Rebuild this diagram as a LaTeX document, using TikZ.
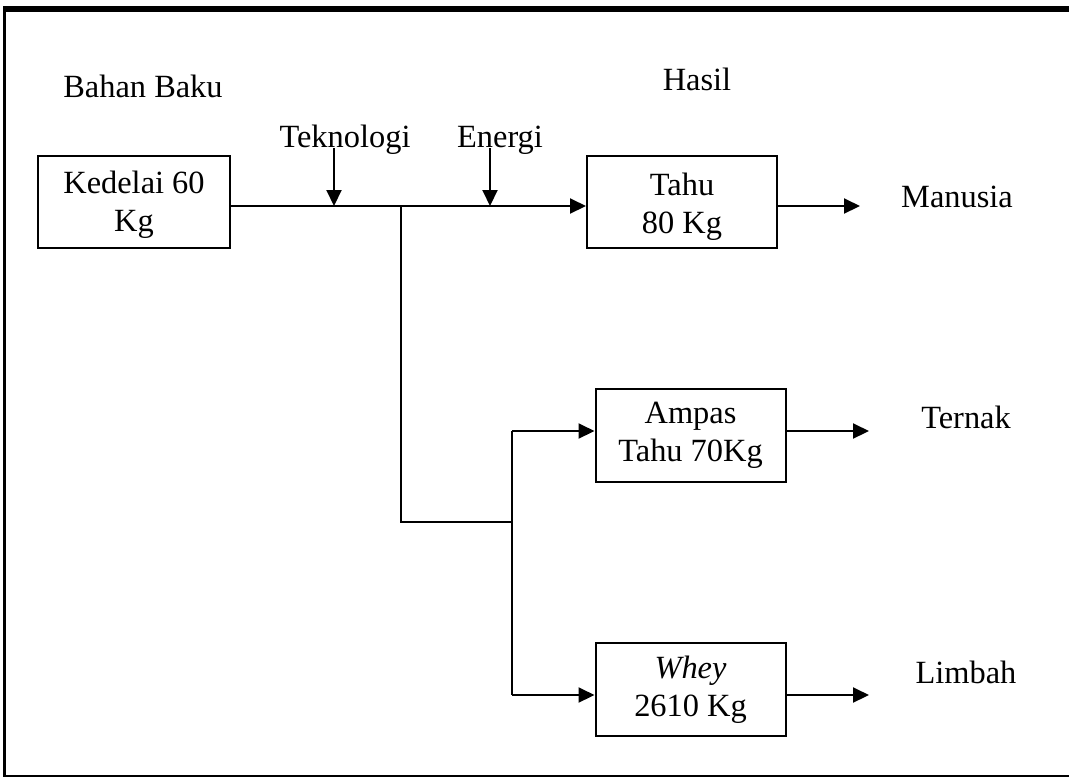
\documentclass[tikz,border=0pt]{standalone}
\usepackage{fontspec}
\setmainfont{Liberation Serif}
\usetikzlibrary{arrows.meta}
\begin{document}
\begin{tikzpicture}[x=0.5pt,y=-0.5pt,
  every node/.style={font=\fontsize{16.2}{19}\selectfont},
  blk/.style={draw, line width=1pt, minimum width=95pt, minimum height=46pt, align=center, inner sep=0pt},
  lbl/.style={anchor=base, inner sep=0pt},
  flow/.style={line width=1pt, -{Triangle[length=8pt,width=7.5pt]}},
  wire/.style={line width=1pt}]
\useasboundingbox (0,0) rectangle (1069,778);
% frame
\draw[line width=3pt] (3,9) -- (1075,9);
\draw[line width=1.75pt] (4.5,6) -- (4.5,777);
\draw[line width=1.25pt] (3,776) -- (1075,776);
% boxes
\node[blk, minimum width=96pt] (ked) at (134,202) {\rule{0pt}{14pt}Kedelai 60\\Kg};
\node[blk] (tahu) at (682,202) {\rule{0pt}{15.5pt}Tahu\\80 Kg};
\node[blk, minimum height=46.5pt] (ampas) at (690.5,435.5) {Ampas\\Tahu 70Kg};
\node[blk, minimum height=46.5pt] (whey) at (690.5,689.5) {\textit{Whey}\\2610 Kg};
% labels
\node[lbl] (bahan) at (143,97) {Bahan Baku};
\node[lbl] (hasil) at (697,90) {Hasil};
\node[lbl] (tek) at (345,147) {Teknologi};
\node[lbl] (en) at (500,147) {Energi};
\node[lbl] (man) at (957,207) {Manusia};
\node[lbl] (ter) at (966,428) {Ternak};
\node[lbl] (lim) at (966,683) {Limbah};
% coordinates
\coordinate (tk) at (334,206);
\coordinate (eg) at (490,206);
\coordinate (tktop) at (334,148);
\coordinate (egtop) at (490,148);
\coordinate (br) at (401,206);
\coordinate (bb) at (401,522);
\coordinate (jn) at (512,522);
\coordinate (ja) at (512,431);
\coordinate (jw) at (512,695);
\coordinate (manarr) at (860,206);
\coordinate (terarr) at (869,431);
\coordinate (limarr) at (869,695);
% connectors
\draw[flow] (ked.east |- br) -- (tahu.west |- br);
\draw[flow] (tktop) -- (tk);
\draw[flow] (egtop) -- (eg);
\draw[wire] (br) -- (bb) -- (jn);
\draw[wire] (ja) -- (jw);
\draw[flow] (ja) -- (ampas.west |- ja);
\draw[flow] (jw) -- (whey.west |- jw);
\draw[flow] (tahu.east |- br) -- (manarr);
\draw[flow] (ampas.east |- ja) -- (terarr);
\draw[flow] (whey.east |- jw) -- (limarr);
\end{tikzpicture}
\end{document}
